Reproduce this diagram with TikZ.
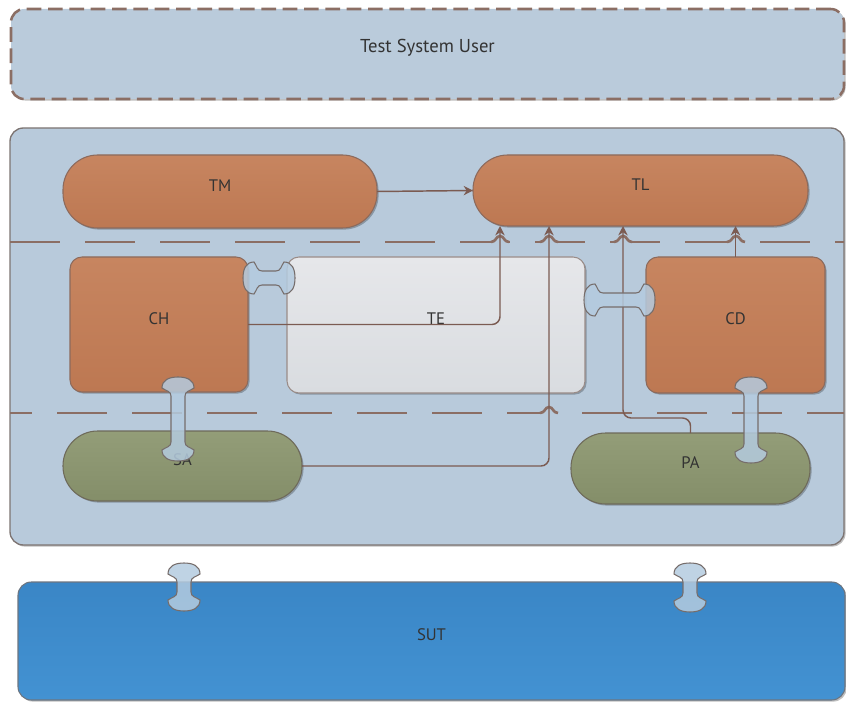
\documentclass[tikz,border=0pt]{standalone}
\usepackage{fontspec}
\setmainfont{PT Sans}
\usetikzlibrary{fit,shadows,arrows.meta}

\definecolor{tsufill}{HTML}{BACBDB}
\definecolor{contfill}{HTML}{B8CADB}
\definecolor{frame}{HTML}{7D7472}
\definecolor{orangetop}{HTML}{C78560}
\definecolor{orangebot}{HTML}{BD7852}
\definecolor{orangeline}{HTML}{8C6A5C}
\definecolor{tetop}{HTML}{E6E7EA}
\definecolor{tebot}{HTML}{D9DCE0}
\definecolor{teline}{HTML}{9A8C88}
\definecolor{olivetop}{HTML}{939D78}
\definecolor{olivebot}{HTML}{848E69}
\definecolor{oliveline}{HTML}{6E6A5A}
\definecolor{suttop}{HTML}{3A86C6}
\definecolor{sutbot}{HTML}{4392D2}
\definecolor{sutline}{HTML}{6D7580}
\definecolor{wire}{HTML}{7B5B52}
\definecolor{dashcol}{HTML}{8B6E64}
\definecolor{bonefill}{HTML}{B4CBDF}
\definecolor{boneline}{HTML}{766D6B}
\definecolor{txt}{HTML}{333333}

\tikzset{
  softshadow/.style={drop shadow={shadow xshift=1.2pt,shadow yshift=-1.2pt,opacity=0.25,fill=black}},
  panel/.style={inner sep=0pt,outer sep=0pt,text=txt,font=\fontsize{12.5}{14}\selectfont},
  obox/.style={panel,draw=orangeline,line width=0.8pt,top color=orangetop,bottom color=orangebot,softshadow},
  tebox/.style={panel,draw=teline,line width=0.8pt,top color=tetop,bottom color=tebot,softshadow},
  gbox/.style={panel,draw=oliveline,line width=0.8pt,top color=olivetop,bottom color=olivebot,softshadow,rounded corners=26pt},
  pill/.style={rounded corners=26pt},
  square/.style={rounded corners=9pt},
  conn/.style={draw=wire,line width=1.1pt,rounded corners=6pt},
  connarrow/.style={conn,-{Stealth[length=7pt,width=7pt]}},
  sepline/.style={draw=dashcol,line width=2.2pt,dash pattern=on 37.5pt off 18.75pt},
  hop/.style={draw=dashcol,line width=2pt},
  bonestyle/.style={fill=bonefill,fill opacity=0.85,draw=boneline,line width=0.8pt},
  % two-headed block arrow with flared, domed ends; #1 is its length
  pics/bone/.style={code={
    \path[bonestyle] (11,-16) .. controls (3,-16) and (0,-9) .. (0,0)
      .. controls (0,9) and (3,16) .. (11,16)
      .. controls (14,12) and (14,7) .. (19,7)
      -- ({#1-19},7) .. controls ({#1-14},7) and ({#1-14},12) .. ({#1-11},16)
      .. controls ({#1-3},16) and (#1,9) .. (#1,0)
      .. controls (#1,-9) and ({#1-3},-16) .. ({#1-11},-16)
      .. controls ({#1-14},-12) and ({#1-14},-7) .. ({#1-19},-7)
      -- (19,-7) .. controls (14,-7) and (14,-12) .. (11,-16) -- cycle;
  }}
}

\begin{document}
\begin{tikzpicture}[x=0.75pt,y=-0.75pt]
  \useasboundingbox (0,0) rectangle (846,702);

  % test system user (outside the test system)
  \node[panel,fill=tsufill,draw=dashcol,line width=1.9pt,dash pattern=on 11pt off 5pt,
        rounded corners=10pt,softshadow,fit={(11,9)(844,99)},
        font=\fontsize{14}{16}\selectfont] (tsu) {Test System User};

  % test system container
  \node[panel,fill=contfill,draw=frame,line width=1pt,rounded corners=10pt,softshadow,
        fit={(10,128)(844,545)}] (ts) {};

  % system under test
  \node[panel,draw=sutline,line width=0.8pt,top color=suttop,bottom color=sutbot,
        rounded corners=10pt,softshadow,fit={(18,582)(845,700)}] (sut) {SUT};

  % layer separators
  \draw[sepline] (ts.west |- 0,242) -- (ts.east |- 0,242);
  \draw[sepline,dash phase=21pt] (ts.west |- 0,413) -- (ts.east |- 0,413);

  % components
  \node[obox,pill,fit={(63,155)(377,228)}] (TM) {TM};
  \node[obox,pill,fit={(473,155)(808,226)}] (TL) {TL};
  \node[obox,square,fit={(70,257)(248,392)}] (CH) {CH};
  \node[tebox,square,fit={(287,257)(585,393)}] (TE) {TE};
  \node[obox,square,fit={(646,257)(825,393)}] (CD) {CD};
  \node[gbox,fit={(63,431)(302,501)}] (SA) {SA};
  \node[gbox,fit={(571,433)(810,504)}] (PA) {PA};

  % x positions where the wires enter TL
  \coordinate (xa) at (500,0);
  \coordinate (xb) at (549,0);
  \coordinate (xc) at (623,0);

  % line hops of the separators over the wires
  \foreach \hx/\hy in {500/242,549/242,623/242,736/242,549/413}{
    \fill[contfill] (\hx-8,\hy-3) rectangle (\hx+8,\hy+3);
    \draw[hop] (\hx-9,\hy) .. controls (\hx-4,\hy) and (\hx-4,\hy-6) .. (\hx,\hy-6)
               .. controls (\hx+4,\hy-6) and (\hx+4,\hy) .. (\hx+9,\hy);
  }

  % wires into the test logging
  \draw[connarrow] (TM.east) -- (TL.west);
  \draw[connarrow] (CH.east) -| (TL.south -| xa);
  \draw[connarrow] (SA.east) -| (TL.south -| xb);
  \draw[connarrow] (PA.north) -- ++(0,-15) -| (TL.south -| xc);
  \draw[connarrow] (CD.north) -- (TL.south -| CD.north);

  % two-way interfaces
  \pic at (243,278) {bone=52};
  \pic at (584,300) {bone=71};
  \pic[rotate=-90] at (178,377) {bone=84};
  \pic[rotate=-90] at (751,377) {bone=86};
  \pic[rotate=-90] at (184,563) {bone=48};
  \pic[rotate=-90] at (690,563) {bone=49};
\end{tikzpicture}
\end{document}
